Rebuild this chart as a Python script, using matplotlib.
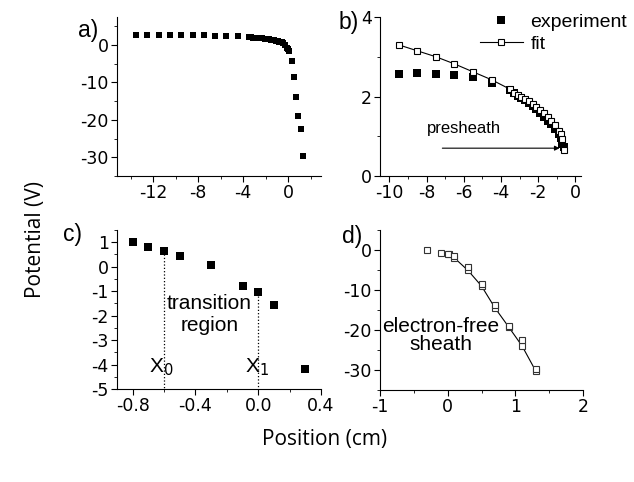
import matplotlib
matplotlib.use("Agg")
import matplotlib.pyplot as plt
from matplotlib.ticker import MultipleLocator

plt.rcParams['font.family'] = ['Liberation Sans', 'DejaVu Sans']
plt.rcParams['axes.unicode_minus'] = False

# far plasma points (only in panel a)
far_x = [-13.5, -12.5, -11.5, -10.5]
far_v = [2.6, 2.6, 2.6, 2.6]

# presheath experiment (panel b)
exp_x = [-9.5, -8.5, -7.5, -6.5, -5.5, -4.5, -3.5, -3.3, -3.1, -2.9, -2.7, -2.5,
         -2.3, -2.1, -1.9, -1.7, -1.5, -1.3, -1.1, -0.9, -0.8, -0.7, -0.6]
exp_v = [2.57, 2.6, 2.57, 2.53, 2.48, 2.33, 2.17, 2.08, 2.02, 1.96, 1.91, 1.84,
         1.76, 1.68, 1.58, 1.49, 1.39, 1.30, 1.18, 1.05, 0.95, 0.80, 0.72]

# presheath fit (panel b)
fit_x = [-9.5, -8.5, -7.5, -6.5, -5.5, -4.5, -3.5, -3.3, -3.1, -2.9, -2.7, -2.5,
         -2.3, -2.1, -1.9, -1.7, -1.5, -1.3, -1.1, -0.9, -0.8, -0.7, -0.6]
fit_v = [3.30, 3.15, 3.00, 2.82, 2.62, 2.42, 2.18, 2.10, 2.04, 1.99, 1.94, 1.88,
         1.81, 1.74, 1.66, 1.58, 1.49, 1.39, 1.28, 1.13, 1.05, 0.92, 0.65]

# transition region (panel c)
trans_x = [-0.8, -0.7, -0.6, -0.5, -0.3, -0.1, 0.0, 0.1, 0.3]
trans_v = [1.0, 0.8, 0.65, 0.45, 0.05, -0.78, -1.05, -1.55, -4.2]

# sheath (panel d)
sheath_x = [-0.3, -0.1, 0.0, 0.1, 0.3, 0.5, 0.7, 0.9, 1.1, 1.3]
sheath_v = [0.0, -0.7, -1.0, -1.5, -4.2, -8.5, -13.8, -19.0, -22.5, -29.7]
sfit_x = [0.02, 0.1, 0.3, 0.5, 0.7, 0.9, 1.1, 1.3]
sfit_v = [-1.1, -2.0, -5.1, -9.0, -14.5, -19.2, -24.0, -30.2]

W, H = 634, 482
fig = plt.figure(figsize=(W / 100, H / 100), dpi=100)
tick_font = ['DejaVu Sans']


def box(l, r, t, b):
    return [l / W, 1 - b / H, (r - l) / W, (b - t) / H]


def style(ax):
    for s in ('top', 'right'):
        ax.spines[s].set_visible(False)
    ax.tick_params(which='both', direction='out', labelsize=12.5, pad=2)
    ax.tick_params(which='major', length=4)
    ax.tick_params(which='minor', length=2.5)


ax_a = fig.add_axes(box(117, 321, 17, 176))
ax_b = fig.add_axes(box(380, 581, 17, 176))
ax_c = fig.add_axes(box(117, 321, 230, 389))
ax_d = fig.add_axes(box(380, 583, 230, 390))
for ax in (ax_a, ax_b, ax_c, ax_d):
    style(ax)

# a) whole profile
a_x = far_x + exp_x + trans_x[3:8] + sheath_x[4:]
a_v = far_v + exp_v + trans_v[3:8] + sheath_v[4:]
ax_a.plot(a_x, a_v, 's', color='black', ms=4.3, mew=0)
ax_a.set_xlim(-15.2, 2.9)
ax_a.set_ylim(-35, 7.5)
ax_a.xaxis.set_major_locator(MultipleLocator(4))
ax_a.xaxis.set_minor_locator(MultipleLocator(2))
ax_a.yaxis.set_major_locator(MultipleLocator(10))
ax_a.yaxis.set_minor_locator(MultipleLocator(5))

# b) presheath
ax_b.plot(exp_x, exp_v, 's', color='black', ms=5.5, mew=0, label='experiment')
ax_b.plot(fit_x, fit_v, '-s', color='black', lw=0.8, ms=4.5, mew=0.8,
          mfc='white', label='fit')
ax_b.set_xlim(-10.5, 0.3)
ax_b.set_ylim(0, 4)
ax_b.xaxis.set_major_locator(MultipleLocator(2))
ax_b.xaxis.set_minor_locator(MultipleLocator(1))
ax_b.yaxis.set_major_locator(MultipleLocator(2))
ax_b.yaxis.set_minor_locator(MultipleLocator(1))
ax_b.legend(loc='upper left', bbox_to_anchor=(0.458, 1.07), frameon=False,
            fontsize=14, handlelength=2.2, handletextpad=0.4,
            labelspacing=0.2, borderaxespad=0)
ax_b.annotate('', xy=(-0.85, 0.7), xytext=(-7.15, 0.7),
              arrowprops=dict(arrowstyle='-|>', color='black', lw=0.8,
                              mutation_scale=7, shrinkA=0, shrinkB=0))
ax_b.text(-6.0, 1.2, 'presheath', fontsize=12, ha='center', va='center')

# c) transition region
ax_c.plot(trans_x, trans_v, 's', color='black', ms=5.5, mew=0)
ax_c.set_xlim(-0.9, 0.4)
ax_c.set_ylim(-5, 1.5)
ax_c.xaxis.set_major_locator(MultipleLocator(0.4))
ax_c.xaxis.set_minor_locator(MultipleLocator(0.2))
ax_c.xaxis.set_major_formatter(lambda v, p: f'{v:.1f}')
ax_c.yaxis.set_major_locator(MultipleLocator(1))
ax_c.yaxis.set_minor_locator(MultipleLocator(0.5))
ax_c.plot([-0.6, -0.6], [0.5, -5], ':', color='black', lw=0.9)
ax_c.plot([0.0, 0.0], [-1.2, -5], ':', color='black', lw=0.9)
ax_c.text(-0.31, -1.95, 'transition\nregion', fontsize=15, ha='center',
          va='center', linespacing=1.25)
ax_c.text(-0.62, -4.1, 'X$_0$', fontsize=15, ha='center', va='center')
ax_c.text(-0.01, -4.1, 'X$_1$', fontsize=15, ha='center', va='center')

# d) electron-free sheath
ax_d.plot(sfit_x, sfit_v, '-s', color='black', lw=0.8, ms=5, mew=0.8,
          mfc='white', mec='#333333')
ax_d.plot(sheath_x, sheath_v, 's', color='black', ms=5, mew=0.8,
          mfc='white', mec='#333333')
ax_d.set_xlim(-1, 2)
ax_d.set_ylim(-35, 5)
ax_d.xaxis.set_major_locator(MultipleLocator(1))
ax_d.xaxis.set_minor_locator(MultipleLocator(0.5))
ax_d.yaxis.set_major_locator(MultipleLocator(10))
ax_d.yaxis.set_minor_locator(MultipleLocator(5))
ax_d.text(-0.1, -21.3, 'electron-free\nsheath', fontsize=15, ha='center',
          va='center', linespacing=0.95)

for ax in (ax_a, ax_b, ax_c, ax_d):
    for lab in ax.get_xticklabels() + ax.get_yticklabels():
        lab.set_family(tick_font)

# panel letters
for x, y, s in [(88, 30, 'a)'), (349, 22, 'b)'), (72, 234, 'c)'), (352, 236, 'd)')]:
    fig.text(x / W, 1 - y / H, s, fontsize=16.5, ha='center', va='center')

fig.text(35 / W, 1 - 240 / H, 'Potential (V)', fontsize=15, rotation=90,
         ha='center', va='center', family=['Open Sans', 'DejaVu Sans'])
fig.text(325 / W, 1 - 440 / H, 'Position (cm)', fontsize=15,
         ha='center', va='center', family=['Open Sans', 'DejaVu Sans'])

fig.savefig('out.png', dpi=100)
